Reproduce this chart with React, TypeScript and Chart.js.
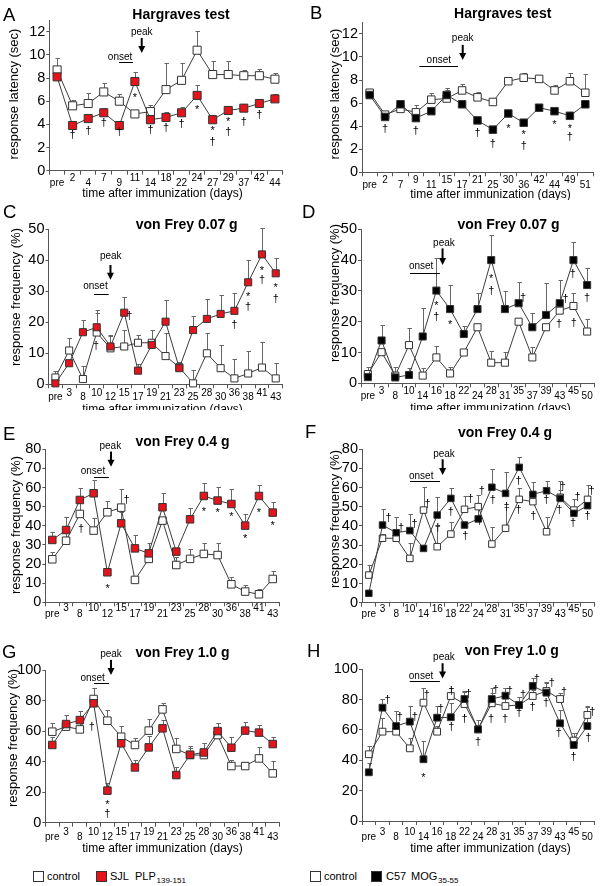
import React, { useEffect, useRef } from 'react';
import { Chart, registerables } from 'chart.js';

Chart.register(...registerables);

const FONT = 'Arial, "Liberation Sans", Helvetica, sans-serif';
const SJL_RED = '#e3141c';
const MOG_BLACK = '#000000';
const LINE = '#3c3c3c';
const AXIS = '#555555';
const ERR = '#666666';

// ---------- tick labels ----------
const labelsA = ['pre', '2', '4', '7', '9', '11', '14', '18', '22', '24', '27', '29', '37', '42', '44'];
const labelsB = ['pre', '2', '7', '9', '11', '15', '17', '21', '25', '30', '36', '42', '44', '49', '51'];
const labelsSJL = ['pre', '3', '8', '10', '12', '15', '17', '19', '21', '23', '25', '28', '30', '36', '38', '41', '43'];
const labelsMOG = ['pre', '3', '8', '10', '14', '16', '18', '22', '24', '28', '31', '35', '37', '39', '43', '45', '50'];

// ---------- A: Hargraves, SJL ----------
const ctrlA = [8.7, 5.6, 5.8, 6.8, 6.0, 4.9, 5.1, 7.0, 7.8, 10.4, 8.3, 8.3, 8.2, 8.2, 7.9];
const ctrlErrA = [1.0, 0.5, 0.9, 0.8, 0.6, 0.2, 0.6, 2.3, 1.5, 1.7, 1.2, 1.2, 0.5, 0.6, 0.5];
const sjlA = [8.1, 3.9, 4.5, 5.0, 3.9, 7.7, 4.4, 4.6, 5.0, 6.5, 4.4, 5.2, 5.4, 5.8, 6.2];
const sjlErrA = [0.3, 0.4, 0.3, 0.4, 0.3, 0.8, 0.5, 0.5, 0.5, 0.9, 0.4, 0.4, 0.4, 0.4, 0.4];
const annA = [[1, 3.1, '†'], [2, 3.4, '†'], [3, 4.1, '†'], [4, 3.35, '†'], [5, 6.5, '*'], [6, 3.5, '†'], [7, 3.65, '†'], [8, 4.0, '†'], [9, 5.5, '*'], [10, 3.65, '*'], [10, 2.5, '†'], [11, 4.45, '*'], [11, 3.35, '†'], [12, 4.2, '†'], [13, 4.8, '†']];
const onsetA = [3.98, 4.88, 9.36, 4.05, 9.82];
const peakA = [5.44, 11.95, 5.44, 11.46, 10.16];

// ---------- B: Hargraves, C57 ----------
const ctrlB = [6.9, 5.0, 5.5, 5.2, 6.3, 6.4, 7.1, 6.5, 6.1, 7.9, 8.2, 8.1, 7.1, 7.9, 6.9];
const ctrlErrB = [0.2, 0.3, 0.3, 0.6, 0.6, 0.9, 0.6, 0.45, 0.35, 0.2, 0.45, 0.25, 0.45, 0.75, 1.6];
const mogB = [6.7, 4.8, 5.9, 4.7, 5.3, 6.7, 5.9, 4.5, 3.7, 5.1, 4.3, 5.6, 5.3, 4.9, 5.9];
const mogErrB = [0.2, 0.3, 0.3, 0.3, 0.3, 0.4, 0.3, 0.3, 0.3, 0.3, 0.3, 0.3, 0.3, 0.3, 0.3];
const annB = [[1, 3.75, '†'], [3, 3.55, '†'], [7, 3.45, '†'], [8, 2.5, '†'], [9, 4.0, '*'], [10, 3.45, '*'], [10, 2.3, '†'], [12, 4.3, '*'], [13, 4.0, '*'], [13, 3.05, '†']];
const onsetB = [3.22, 5.73, 9.22, 4.49, 9.75];
const peakB = [6.04, 11.63, 6.04, 11.05, 9.75];

// ---------- C: von Frey 0.07 g, SJL ----------
const ctrlC = [2.2, 10.9, 1.7, 16.7, 11.6, 12.2, 13.4, 13.4, 9.1, 5.5, 0.3, 10.0, 5.2, 1.9, 3.5, 5.4, 1.9];
const ctrlErrC = [2.0, 3.9, 4.2, 6.2, 4.3, 5.3, 2.5, 4.1, 7.4, 1.8, 4.3, 6.5, 7.5, 6.2, 7.3, 8.4, 4.9];
const sjlC = [0.3, 6.8, 16.8, 18.4, 12.2, 23.1, 4.4, 12.7, 20.2, 5.2, 17.5, 21.1, 22.7, 23.7, 32.9, 41.9, 35.8];
const sjlErrC = [0.3, 0.8, 4.0, 5.6, 3.5, 5.2, 2.2, 1.8, 7.0, 0.6, 4.5, 6.4, 6.1, 5.9, 7.2, 8.4, 4.8];
const annC = [[2.95, 12.4, '†'], [5.37, 22.0, '†'], [13, 19.1, '†'], [14, 29.0, '*'], [14, 25.1, '†'], [15, 37.4, '*'], [15, 33.7, '†'], [16, 31.8, '*'], [16, 27.4, '†']];
const onsetC = [2.8, 3.87, 29.1, 2.91, 31.7];
const peakC = [4.02, 41.2, 4.0, 38.5, 33.7];

// ---------- D: von Frey 0.07 g, C57 ----------
const ctrlD = [3.0, 10.1, 2.5, 12.4, 2.5, 8.4, 3.2, 10.0, 18.2, 6.7, 6.7, 20.0, 8.4, 18.2, 23.6, 25.1, 16.8];
const ctrlErrD = [2.4, 0.4, 2.9, 5.5, 2.4, 3.7, 2.2, 0.5, 0.4, 3.9, 3.6, 0.5, 3.5, 0.8, 2.4, 4.3, 4.0];
const mogD = [2.0, 13.9, 1.9, 2.7, 15.2, 30.1, 24.1, 16.0, 24.1, 40.0, 24.1, 26.0, 18.2, 22.2, 26.0, 40.0, 31.9];
const mogErrD = [0.5, 5.0, 0.6, 2.2, 9.2, 10.5, 7.8, 2.6, 5.1, 8.2, 6.0, 7.0, 4.6, 10.3, 7.5, 6.0, 5.4];
const annD = [[5, 25.8, '*'], [5, 21.6, '†'], [6, 19.7, '*'], [9, 34.8, '*'], [9, 30.1, '†'], [11.33, 27.8, '†'], [14.43, 27.3, '†'], [13.95, 19.2, '†'], [14.95, 35.5, '†'], [15.02, 19.7, '†'], [16, 27.6, '†']];
const onsetD = [3.07, 5.26, 35.9, 3.89, 37.9];
const peakD = [5.55, 45.5, 5.45, 43.8, 38.4];

// ---------- E: von Frey 0.4 g, SJL ----------
const ctrlE = [22.5, 32.2, 46.2, 37.5, 47.1, 49.5, 11.7, 22.7, 42.7, 19.5, 22.7, 25.3, 24.7, 9.4, 5.6, 4.2, 12.2];
const ctrlErrE = [4.0, 12.2, 7.3, 6.4, 6.1, 9.6, 1.3, 2.9, 1.3, 4.4, 5.0, 5.9, 6.2, 4.0, 3.5, 2.6, 4.2];
const sjlE = [32.6, 37.8, 53.5, 57.0, 15.7, 41.3, 28.2, 25.6, 49.7, 26.5, 43.4, 55.6, 53.2, 51.4, 40.1, 55.6, 46.9];
const sjlErrE = [4.4, 6.6, 6.1, 7.0, 1.3, 5.7, 7.0, 5.3, 7.3, 1.5, 5.8, 6.6, 7.3, 7.9, 6.1, 5.8, 5.7];
const annE = [[2.08, 38.2, '†'], [4.02, 8.5, '*'], [5.4, 53.5, '†'], [11, 48.6, '*'], [12, 47.9, '*'], [13, 46.2, '*'], [14, 34.7, '*'], [15, 48.3, '*'], [16, 41.3, '*']];
const onsetE = [3.03, 4.11, 65.7, 2.95, 68.7];
const peakE = [4.21, 81.4, 4.26, 78.8, 70.9];

// ---------- F: von Frey 0.4 g, C57 ----------
const ctrlF = [14.4, 33.6, 33.6, 23.1, 48.3, 29.2, 35.8, 48.7, 50.1, 30.6, 38.8, 53.9, 52.7, 37.0, 55.0, 48.3, 53.9];
const ctrlErrF = [5.3, 2.4, 2.4, 8.2, 12.2, 10.8, 6.5, 7.0, 6.1, 9.1, 10.9, 5.8, 1.3, 7.9, 3.8, 5.6, 7.5];
const mogF = [4.9, 40.5, 36.5, 37.6, 28.3, 45.7, 54.4, 40.5, 43.7, 60.2, 57.0, 70.6, 56.5, 58.4, 54.4, 46.6, 50.6];
const mogErrF = [0.6, 8.2, 8.0, 8.7, 0.7, 9.6, 5.3, 1.5, 6.3, 9.4, 11.3, 5.2, 6.6, 5.3, 9.3, 1.4, 5.1];
const annF = [[1.45, 44, '†'], [2.35, 38.8, '†'], [3.35, 41, '†'], [4.3, 51.3, '†'], [5.05, 38.8, '†'], [6.0, 47.5, '†'], [7.05, 34.8, '†'], [7.44, 53.9, '†'], [8.08, 42.6, '†'], [8.27, 58.4, '†'], [9.06, 53.6, '†'], [10.07, 49.7, '†'], [10.95, 63.5, '†'], [10.95, 48.3, '†'], [12.03, 45.2, '†'], [12.98, 53.6, '†'], [13.94, 48.3, '†'], [14.18, 60.5, '†'], [14.94, 41.4, '†'], [15.26, 55, '†'], [16, 45.2, '†'], [16.29, 58.3, '†']];
const onsetF = [3.01, 5.21, 63.5, 3.83, 66.1];
const peakF = [5.5, 77.4, 5.4, 74.8, 66.6];

// ---------- G: von Frey 1.0 g, SJL ----------
const ctrlG = [59.6, 62.9, 61.1, 81.0, 66.8, 56.3, 50.9, 60.3, 74.2, 48.3, 44.3, 44.3, 57.4, 37.1, 37.1, 42.1, 32.3];
const ctrlErrG = [5.9, 2.1, 6.8, 7.0, 7.0, 7.0, 4.3, 7.4, 4.4, 6.9, 5.9, 7.7, 8.1, 3.9, 2.9, 7.7, 8.3];
const sjlG = [50.9, 64.6, 67.2, 78.2, 21.0, 52.0, 36.2, 49.3, 61.8, 31.2, 44.5, 46.0, 60.0, 49.1, 60.3, 59.0, 51.5];
const sjlErrG = [5.4, 5.9, 6.2, 9.8, 4.8, 3.0, 4.8, 7.5, 5.4, 5.5, 4.3, 6.1, 5.5, 7.2, 5.9, 5.0, 4.8];
const annG = [[2.86, 62.4, '†'], [4, 13.1, '*'], [4, 5.7, '†']];
const onsetG = [3.03, 4.12, 91.7, 2.93, 94.5];
const peakG = [4.26, 110.3, 4.26, 106.6, 96.7];

// ---------- H: von Frey 1.0 g, C57 ----------
const ctrlH = [44.0, 58.9, 58.9, 47.9, 78.0, 58.9, 82.4, 77.1, 60.4, 77.6, 75.8, 76.5, 82.4, 85.7, 80.4, 53.0, 69.9];
const ctrlErrH = [5.7, 8.8, 13.8, 6.6, 9.5, 3.7, 5.1, 8.2, 0.6, 6.6, 11.7, 5.5, 4.0, 6.2, 4.2, 4.8, 5.9];
const mogH = [32.1, 74.7, 62.6, 65.5, 40.7, 68.1, 68.4, 80.4, 60.4, 80.4, 82.6, 76.5, 89.0, 84.6, 64.4, 50.1, 62.6];
const mogErrH = [5.9, 5.5, 10.1, 10.3, 12.3, 7.7, 9.2, 5.3, 6.2, 7.1, 4.9, 5.5, 5.0, 6.6, 8.8, 8.1, 12.3];
const annH = [[1.38, 79.8, '†'], [2.27, 68.4, '†'], [3.37, 68.4, '†'], [4.25, 83.1, '†'], [5.27, 73.6, '†'], [4.0, 30.3, '*'], [6.04, 85.7, '†'], [6.04, 62.2, '†'], [7.0, 67, '†'], [7.3, 83.7, '†'], [8.0, 52.3, '†'], [8.95, 67, '†'], [9.3, 86.4, '†'], [9.97, 67, '†'], [10.33, 86, '†'], [11.0, 71, '†'], [11.3, 83, '†'], [11.99, 75, '†'], [12.3, 93.4, '†'], [12.97, 77.6, '†'], [13.4, 90.8, '†'], [13.9, 57.8, '†'], [14.3, 85.3, '†'], [14.99, 42, '†'], [16.06, 54.5, '†'], [16.37, 72, '†']];
const onsetH = [3.0, 5.2, 92.5, 3.82, 95.6];
const peakH = [5.5, 108, 5.4, 104, 94];

const X_TITLE = 'time after immunization (days)';

type Geo = {
  box: number[]; area: number[]; letter: number[]; title: number[];
  yTitle: number[]; xTitleX: number; xLab: number[]; pr: number;
};
type Panel = {
  letter: string; title: string; yTitle: string | null;
  labels: string[]; ctrl: number[]; ctrlErr: number[]; dis: number[]; disErr: number[];
  disColor: string; yMax: number; yTop: number; yStep: number;
  ann: any[]; onset: number[]; peak: number[]; g: Geo;
};

const panels: Panel[] = [
  { letter: 'A', title: 'Hargraves test', yTitle: 'response latency (sec)', labels: labelsA, ctrl: ctrlA, ctrlErr: ctrlErrA, dis: sjlA, disErr: sjlErrA, disColor: SJL_RED, yMax: 13, yTop: 12, yStep: 2, ann: annA, onset: onsetA, peak: peakA,
    g: { box: [0, 0, 300, 200], area: [49.3, 20.1, 282.7, 170.7], letter: [3, 21], title: [181, 15], yTitle: [14, 94], xTitleX: 162.5, xLab: [10.5, 15.5, 22.5], pr: 5.7 } },
  { letter: 'B', title: 'Hargraves test', yTitle: 'response latency (sec)', labels: labelsB, ctrl: ctrlB, ctrlErr: ctrlErrB, dis: mogB, disErr: mogErrB, disColor: MOG_BLACK, yMax: 13, yTop: 12, yStep: 2, ann: annB, onset: onsetB, peak: peakB,
    g: { box: [300, 0, 300, 200], area: [62, 22.4, 293, 172.3], letter: [310, 18.5], title: [502.7, 14], yTitle: [335, 94], xTitleX: 490.5, xLab: [10.5, 16, 22], pr: 5.3 } },
  { letter: 'C', title: 'von Frey 0.07 g', yTitle: 'response frequency (%)', labels: labelsSJL, ctrl: ctrlC, ctrlErr: ctrlErrC, dis: sjlC, disErr: sjlErrC, disColor: SJL_RED, yMax: 50, yTop: 50, yStep: 10, ann: annC, onset: onsetC, peak: peakC,
    g: { box: [0, 200, 300, 210], area: [48.5, 29.3, 282.6, 184.3], letter: [3, 218], title: [186.7, 225], yTitle: [16.7, 297], xTitleX: 162.5, xLab: [11.4, 15.3, 25], pr: 5.0 } },
  { letter: 'D', title: 'von Frey 0.07 g', yTitle: 'response frequency (%)', labels: labelsMOG, ctrl: ctrlD, ctrlErr: ctrlErrD, dis: mogD, disErr: mogErrD, disColor: MOG_BLACK, yMax: 50, yTop: 50, yStep: 10, ann: annD, onset: onsetD, peak: peakD,
    g: { box: [300, 200, 300, 210], area: [61, 29.3, 299, 183.3], letter: [302, 218], title: [508.5, 225], yTitle: [335, 293], xTitleX: 490.5, xLab: [11, 15.5, 25.5], pr: 5.0 } },
  { letter: 'E', title: 'von Frey 0.4 g', yTitle: 'response frequency (%)', labels: labelsSJL, ctrl: ctrlE, ctrlErr: ctrlErrE, dis: sjlE, disErr: sjlErrE, disColor: SJL_RED, yMax: 80, yTop: 80, yStep: 10, ann: annE, onset: onsetE, peak: peakE,
    g: { box: [0, 410, 300, 210], area: [45.4, 39.3, 279.6, 192.3], letter: [3, 440], title: [182.5, 441.7], yTitle: [16, 525], xTitleX: 162.5, xLab: [9, 14.5, 23], pr: 5.3 } },
  { letter: 'F', title: 'von Frey 0.4 g', yTitle: 'response frequency (%)', labels: labelsMOG, ctrl: ctrlF, ctrlErr: ctrlErrF, dis: mogF, disErr: mogErrF, disColor: MOG_BLACK, yMax: 80, yTop: 80, yStep: 10, ann: annF, onset: onsetF, peak: peakF,
    g: { box: [300, 410, 300, 210], area: [62, 39.3, 299, 192.7], letter: [305, 438], title: [505, 433.3], yTitle: [335, 519], xTitleX: 490.5, xLab: [9, 14.5, 24], pr: 4.6 } },
  { letter: 'G', title: 'von Frey 1.0 g', yTitle: 'response frequency (%)', labels: labelsSJL, ctrl: ctrlG, ctrlErr: ctrlErrG, dis: sjlG, disErr: sjlErrG, disColor: SJL_RED, yMax: 100, yTop: 100, yStep: 20, ann: annG, onset: onsetG, peak: peakG,
    g: { box: [0, 620, 300, 242], area: [45.4, 50, 279.6, 202.7], letter: [2, 658], title: [182.5, 653.3], yTitle: [13, 738], xTitleX: 162.5, xLab: [12, 17.5, 26.3], pr: 5.3 } },
  { letter: 'H', title: 'von Frey 1.0 g', yTitle: null, labels: labelsMOG, ctrl: ctrlH, ctrlErr: ctrlErrH, dis: mogH, disErr: mogErrH, disColor: MOG_BLACK, yMax: 100, yTop: 100, yStep: 20, ann: annH, onset: onsetH, peak: peakH,
    g: { box: [300, 620, 300, 242], area: [62, 49.3, 299, 201], letter: [307, 657], title: [511.7, 651], yTitle: [0, 0], xTitleX: 490.5, xLab: [13.5, 19, 28], pr: 4.8 } },
];

function makeDeco(p: Panel) {
  return {
    id: 'deco' + p.letter,
    beforeDatasetsDraw(chart: any) {
      const ctx = chart.ctx;
      const xs = chart.scales.x;
      const ys = chart.scales.y;
      ctx.save();
      ctx.strokeStyle = ERR;
      ctx.lineWidth = 1;
      const sets: [number[], number[]][] = [[p.ctrl, p.ctrlErr], [p.dis, p.disErr]];
      for (const [vals, errs] of sets) {
        vals.forEach((v, i) => {
          const e = errs[i];
          if (!e) return;
          const x = Math.round(xs.getPixelForValue(i)) + 0.5;
          const y0 = ys.getPixelForValue(v);
          const y1 = Math.round(ys.getPixelForValue(v + e)) + 0.5;
          ctx.beginPath();
          ctx.moveTo(x, y0);
          ctx.lineTo(x, y1);
          ctx.moveTo(x - 2, y1);
          ctx.lineTo(x + 2.5, y1);
          ctx.stroke();
        });
      }
      ctx.restore();
    },
    afterDraw(chart: any) {
      const ctx = chart.ctx;
      const xs = chart.scales.x;
      const ys = chart.scales.y;
      const g = p.g;
      const bx = g.box[0];
      const by = g.box[1];
      const bottom = chart.chartArea.bottom;
      ctx.save();
      ctx.fillStyle = '#000';
      ctx.strokeStyle = '#000';
      // panel letter
      ctx.font = `18.5px ${FONT}`;
      ctx.textAlign = 'left';
      ctx.textBaseline = 'alphabetic';
      ctx.fillText(p.letter, g.letter[0] - bx, g.letter[1] - by);
      // title
      ctx.font = `bold 14px ${FONT}`;
      ctx.textAlign = 'center';
      ctx.textBaseline = 'middle';
      ctx.fillText(p.title, g.title[0] - bx, g.title[1] - by);
      // x tick labels (staggered)
      ctx.font = `10px ${FONT}`;
      ctx.textBaseline = 'alphabetic';
      p.labels.forEach((lab, i) => {
        const x = xs.getPixelForValue(i);
        const y = bottom + (i % 2 === 1 ? g.xLab[0] : g.xLab[1]);
        ctx.fillText(lab, x, y);
      });
      // x title
      ctx.font = `12px ${FONT}`;
      ctx.textBaseline = 'middle';
      ctx.fillText(X_TITLE, g.xTitleX - bx, bottom + g.xLab[2]);
      // y title
      if (p.yTitle) {
        ctx.save();
        ctx.translate(g.yTitle[0] - bx, g.yTitle[1] - by);
        ctx.rotate(-Math.PI / 2);
        ctx.font = `13px ${FONT}`;
        ctx.textAlign = 'center';
        ctx.textBaseline = 'middle';
        ctx.fillText(p.yTitle, 0, 0);
        ctx.restore();
      }
      // significance marks
      ctx.font = `11px ${FONT}`;
      ctx.textAlign = 'center';
      ctx.textBaseline = 'middle';
      for (const [i, v, s] of p.ann) {
        const x = xs.getPixelForValue(i);
        const y = ys.getPixelForValue(v) + (s === '*' ? 2.6 : 0);
        ctx.fillText(s, x, y);
      }
      // onset
      const [o0, o1, ov, oti, otv] = p.onset;
      ctx.lineWidth = 1;
      ctx.beginPath();
      const oy = Math.round(ys.getPixelForValue(ov)) + 0.5;
      ctx.moveTo(xs.getPixelForValue(o0), oy);
      ctx.lineTo(xs.getPixelForValue(o1), oy);
      ctx.stroke();
      ctx.font = `10px ${FONT}`;
      ctx.fillText('onset', xs.getPixelForValue(oti), ys.getPixelForValue(otv));
      // peak
      const [pti, ptv, pai, pa0, pa1] = p.peak;
      ctx.fillText('peak', xs.getPixelForValue(pti), ys.getPixelForValue(ptv));
      const ax = xs.getPixelForValue(pai);
      const ay0 = ys.getPixelForValue(pa0);
      const ay1 = ys.getPixelForValue(pa1);
      ctx.lineWidth = 2;
      ctx.beginPath();
      ctx.moveTo(ax, ay0);
      ctx.lineTo(ax, ay1 - 5);
      ctx.stroke();
      ctx.beginPath();
      ctx.moveTo(ax - 3.5, ay1 - 7);
      ctx.lineTo(ax + 3.5, ay1 - 7);
      ctx.lineTo(ax, ay1);
      ctx.closePath();
      ctx.fill();
      ctx.restore();
    },
  };
}

function PanelChart({ p }: { p: Panel }) {
  const ref = useRef<HTMLCanvasElement>(null);
  useEffect(() => {
    const [, , bw, bh] = p.g.box;
    const [l, t, r, b] = p.g.area;
    const common = {
      borderColor: LINE,
      borderWidth: 1,
      pointStyle: 'rect',
      pointRadius: p.g.pr,
      pointBorderWidth: 1,
      pointBorderColor: '#333',
      tension: 0,
      fill: false,
      clip: false,
    };
    const chart = new Chart(ref.current as HTMLCanvasElement, {
      type: 'line',
      data: {
        labels: p.labels,
        datasets: [
          { ...common, label: 'disease', data: p.dis, order: 0, pointBackgroundColor: p.disColor } as any,
          { ...common, label: 'control', data: p.ctrl, order: 1, pointBackgroundColor: '#ffffff' } as any,
        ],
      },
      options: {
        responsive: false,
        animation: false,
        devicePixelRatio: 1,
        events: [],
        layout: { padding: { left: 0, top: t, right: bw - r, bottom: 0 } },
        plugins: { legend: { display: false }, tooltip: { enabled: false }, title: { display: false } },
        scales: {
          x: {
            type: 'category',
            offset: true,
            ticks: { display: false },
            grid: { display: true, offset: true, drawOnChartArea: false, drawTicks: true, tickLength: 4, color: AXIS },
            border: { display: true, color: AXIS },
            afterFit: (s: any) => { s.height = bh - b; },
          },
          y: {
            type: 'linear',
            min: 0,
            max: p.yMax,
            ticks: { stepSize: p.yStep, autoSkip: false, font: { size: 14.5, family: FONT }, color: '#000', padding: 1 },
            afterBuildTicks: (s: any) => {
              const out: any[] = [];
              for (let v = 0; v <= p.yTop + 1e-9; v += p.yStep) out.push({ value: v });
              s.ticks = out;
            },
            grid: { display: true, drawOnChartArea: false, drawTicks: true, tickLength: 3, color: AXIS },
            border: { display: true, color: AXIS },
            afterFit: (s: any) => { s.width = l; },
          },
        },
      } as any,
      plugins: [makeDeco(p)],
    });
    return () => chart.destroy();
  }, [p]);
  const [x, y, w, h] = p.g.box;
  return (
    <canvas
      ref={ref}
      width={w}
      height={h}
      style={{ position: 'absolute', left: x, top: y, width: w, height: h }}
    />
  );
}

const legendText: React.CSSProperties = { position: 'absolute', fontSize: 11, lineHeight: '11px', fontFamily: FONT, color: '#000', whiteSpace: 'nowrap' };
const legendSub: React.CSSProperties = { position: 'absolute', fontSize: 8, lineHeight: '8px', fontFamily: FONT, color: '#000', whiteSpace: 'nowrap' };
const boxStyle = (left: number, fill: string): React.CSSProperties => ({
  position: 'absolute', left, top: 871, width: 9, height: 9, background: fill, border: '1px solid #333',
});

export default function App() {
  return (
    <div style={{ position: 'absolute', left: 0, top: 0, width: 600, height: 886, background: '#fff', overflow: 'hidden' }}>
      {panels.map((p) => (
        <PanelChart key={p.letter} p={p} />
      ))}
      <div style={boxStyle(33, '#fff')} />
      <span style={{ ...legendText, left: 47, top: 870.7 }}>control</span>
      <div style={boxStyle(96, SJL_RED)} />
      <span style={{ ...legendText, left: 110, top: 870.7 }}>SJL</span>
      <span style={{ ...legendText, left: 135, top: 870.7 }}>PLP</span>
      <span style={{ ...legendSub, left: 156.5, top: 876.7 }}>139-151</span>
      <div style={boxStyle(310, '#fff')} />
      <span style={{ ...legendText, left: 324, top: 870.7 }}>control</span>
      <div style={boxStyle(371, MOG_BLACK)} />
      <span style={{ ...legendText, left: 386, top: 870.7 }}>C57</span>
      <span style={{ ...legendText, left: 411, top: 870.7 }}>MOG</span>
      <span style={{ ...legendSub, left: 438, top: 876.7 }}>35-55</span>
    </div>
  );
}
